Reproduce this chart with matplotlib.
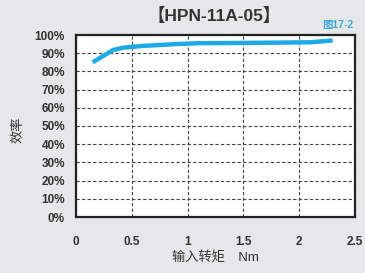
import matplotlib.pyplot as plt

plt.rcParams['font.family'] = ['Liberation Sans', 'Noto Sans CJK SC', 'DejaVu Sans']

# data
torque = [0.15, 0.33, 0.42, 0.6, 0.89, 1.1, 1.4, 1.8, 2.1, 2.3]
efficiency = [85, 91.7, 93, 94, 95, 95.5, 95.6, 95.8, 96, 97]
x_ticks = [0, 0.5, 1, 1.5, 2, 2.5]
x_labels = ['0', '0.5', '1', '1.5', '2', '2.5']
y_ticks = [0, 10, 20, 30, 40, 50, 60, 70, 80, 90, 100]
y_labels = [f'{v}%' for v in y_ticks]

bg = '#e6e7e8'
fig = plt.figure(figsize=(3.65, 2.73), dpi=100, facecolor=bg)
ax = fig.add_axes([76 / 365, 1 - 217 / 273, 279 / 365, 182 / 273])
ax.set_facecolor('white')

ax.plot(torque, efficiency, color='#1eaae6', linewidth=3.2, solid_capstyle='butt')

ax.set_xlim(0, 2.5)
ax.set_ylim(0, 100)
ax.set_xticks(x_ticks)
ax.set_xticklabels(x_labels)
ax.set_yticks(y_ticks)
ax.set_yticklabels(y_labels)
ax.tick_params(length=0, labelsize=8.5, colors='#333333', pad=8)
ax.tick_params(axis='x', pad=14)
for lab in ax.get_xticklabels() + ax.get_yticklabels():
    lab.set_fontweight('bold')

ax.grid(True, linestyle=(0, (3, 2)), color='#444444', linewidth=0.8)
for s in ax.spines.values():
    s.set_linewidth(1.6)
    s.set_color('#222222')

fig.text(214 / 365, 1 - 15 / 273, '【HPN-11A-05】', ha='center', va='center',
         fontsize=12.5, fontweight='bold', color='#333333')
fig.text(353 / 365, 1 - 25 / 273, '图17-2', ha='right', va='center',
         fontsize=7.5, fontweight='bold', color='#3fa9dc')
fig.text(18 / 365, 1 - 130 / 273, '效率', ha='center', va='center',
         rotation=90, fontsize=9.5, color='#333333')
fig.text(215 / 365, 1 - 258 / 273, '输入转矩　Nm', ha='center', va='center',
         fontsize=9.5, color='#333333')

fig.savefig('out.png', dpi=100, facecolor=bg)
